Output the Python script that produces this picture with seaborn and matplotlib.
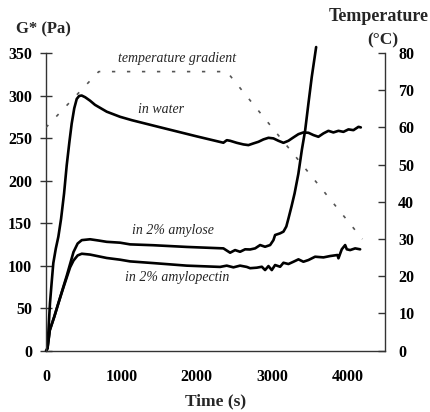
import matplotlib
matplotlib.use("Agg")
import matplotlib.pyplot as plt
import seaborn as sns
import pandas as pd

# ---- data ----
water_t = [0, 15, 30, 53, 75, 97, 130, 164, 200, 240, 275, 310, 341, 375, 408, 440, 474, 520, 584, 651,
           806, 983, 1140, 1500, 2000, 2355, 2400, 2444, 2532, 2621, 2687, 2753, 2820, 2886, 2953, 3019,
           3085, 3152, 3218, 3285, 3351, 3417, 3484, 3550, 3616, 3683, 3749, 3815, 3882, 3948, 4015,
           4081, 4148, 4179]
water_g = [0, 2, 20, 56, 80, 103, 120, 134, 155, 185, 218, 245, 267, 285, 296, 299.5, 300, 298, 294, 289,
           281, 275, 271, 263, 252, 244.5, 247.5, 246.8, 244.4, 242.5, 241.7, 243.7, 245.6, 248.4, 250.3,
           249.6, 246.8, 244.4, 246.8, 250.8, 254.6, 256.6, 256.2, 253.5, 251.5, 255.5, 258.5, 256.6,
           258.5, 257.3, 260.2, 259.3, 263.2, 262.5]

amylose_t = [0, 20, 50, 110, 165, 230, 275, 320, 365, 420, 475, 585, 700, 806, 983, 1116, 1425, 1868,
             2355, 2444, 2510, 2576, 2643, 2709, 2776, 2842, 2908, 2975, 3019, 3041, 3108, 3152, 3190,
             3220, 3260, 3300, 3350, 3396, 3440, 3484, 3528, 3586]
amylose_g = [0, 3, 24, 40, 56, 75, 88, 102, 116, 126, 130, 131, 129.5, 128, 127, 125, 124, 122,
             120.3, 115.2, 118.3, 116.3, 119.2, 119, 120.3, 124.2, 122.2, 124.2, 130, 136, 138, 140, 146,
             156, 170, 185, 208, 236, 259, 291, 322, 357]

amylopectin_t = [0, 20, 50, 110, 165, 230, 275, 320, 365, 420, 475, 585, 806, 983, 1116, 1425, 1868,
                 2311, 2399, 2488, 2576, 2665, 2709, 2798, 2865, 2908, 2953, 2997, 3041, 3108, 3152,
                 3218, 3285, 3351, 3417, 3484, 3572, 3683, 3772, 3869, 3882, 3926, 3971, 3993, 4037,
                 4104, 4170]
amylopectin_g = [0, 3, 24, 40, 56, 74, 86, 98, 106, 112, 114, 113, 109, 107, 105, 103, 100,
                 98.5, 100, 98, 100, 98.5, 97, 97.6, 98.7, 94.8, 99.5, 94.8, 100.7, 98.7, 103.4,
                 101.9, 104.6, 107.4, 104.6, 106.6, 110.5, 109.7, 111.3, 112.5, 108.6, 119.2, 124.2,
                 119.2, 118.3, 120.3, 119.2]

temp_t = [0, 700, 2400, 4200]
temp_c = [60, 75, 75, 30]

x_ticks = [0, 1000, 2000, 3000, 4000]
g_ticks = [0, 50, 100, 150, 200, 250, 300, 350]
temp_ticks = [0, 10, 20, 30, 40, 50, 60, 70, 80]

labels = {
    "water": "in water",
    "amylose": "in 2% amylose",
    "amylopectin": "in 2% amylopectin",
    "temp": "temperature gradient",
}

# ---- style ----
sns.set_style("white")
plt.rcParams['font.family'] = ['Liberation Serif', 'DejaVu Serif']
plt.rcParams['font.weight'] = 'bold'

fig = plt.figure(figsize=(4.3, 4.12), dpi=100)
ax = fig.add_axes([46 / 430, 1 - 350.7 / 412, 339 / 430, 297.7 / 412])

line_kw = dict(color='black', lw=1.9, estimator=None, sort=False, ax=ax)
sns.lineplot(data=pd.DataFrame({'t': water_t, 'g': water_g}), x='t', y='g', **line_kw)
sns.lineplot(data=pd.DataFrame({'t': amylose_t, 'g': amylose_g}), x='t', y='g', clip_on=False, **line_kw)
sns.lineplot(data=pd.DataFrame({'t': amylopectin_t, 'g': amylopectin_g}), x='t', y='g', **line_kw)

ax.set_xlim(0, 4500)
ax.set_ylim(0, 350)
ax.set_xticks(x_ticks)
ax.set_yticks(g_ticks)
ax.set_xlabel('')
ax.set_ylabel('')
for s in ['top', 'right']:
    ax.spines[s].set_visible(False)
for s in ['left', 'bottom']:
    ax.spines[s].set_color('#333333')
    ax.spines[s].set_linewidth(1.0)
ax.tick_params(axis='x', direction='in', length=5, width=1, color='#333333',
               pad=13, labelsize=11.5, labelcolor='black')
ax.tick_params(axis='y', direction='inout', length=8, width=1, color='#333333',
               pad=6, labelsize=11.5, labelcolor='black')

ax2 = ax.twinx()
sns.lineplot(data=pd.DataFrame({'t': temp_t, 'c': temp_c}), x='t', y='c', ax=ax2,
             color='#555555', lw=1.2, linestyle=(0, (2, 7)), estimator=None, sort=False)
ax2.set_xlim(0, 4500)
ax2.set_ylim(0, 80)
ax2.set_yticks(temp_ticks)
ax2.set_xlabel('')
ax2.set_ylabel('')
for s in ['top', 'left', 'bottom']:
    ax2.spines[s].set_visible(False)
ax2.spines['right'].set_color('#333333')
ax2.spines['right'].set_linewidth(1.0)
ax2.tick_params(axis='y', direction='in', length=5, width=1, color='#333333',
                pad=9.5, labelsize=11.5, labelcolor='black')

# ---- axis titles ----
ax.text(-0.009, 1.0806, 'G* (Pa)', transform=ax.transAxes, ha='center', va='center',
        fontsize=12, fontweight='bold')
ax.text(0.982, 1.121, 'Temperature', transform=ax.transAxes, ha='center', va='center',
        fontsize=13, fontweight='bold')
ax.text(0.994, 1.0437, '(°C)', transform=ax.transAxes, ha='center', va='center',
        fontsize=12.5, fontweight='bold')
ax.text(0.501, -0.169, 'Time (s)', transform=ax.transAxes, ha='center', va='center',
        fontsize=12.5, fontweight='bold')

# ---- annotations ----
ann_kw = dict(ha='left', va='center', fontsize=10, fontstyle='italic', fontweight='normal')
ax.text(956, 344, labels["temp"], **ann_kw)
ax.text(1226, 283, labels["water"], **ann_kw)
ax.text(1138, 141, labels["amylose"], **ann_kw)
ax.text(1049, 86, labels["amylopectin"], **ann_kw)

fig.savefig('out.png', dpi=100)
